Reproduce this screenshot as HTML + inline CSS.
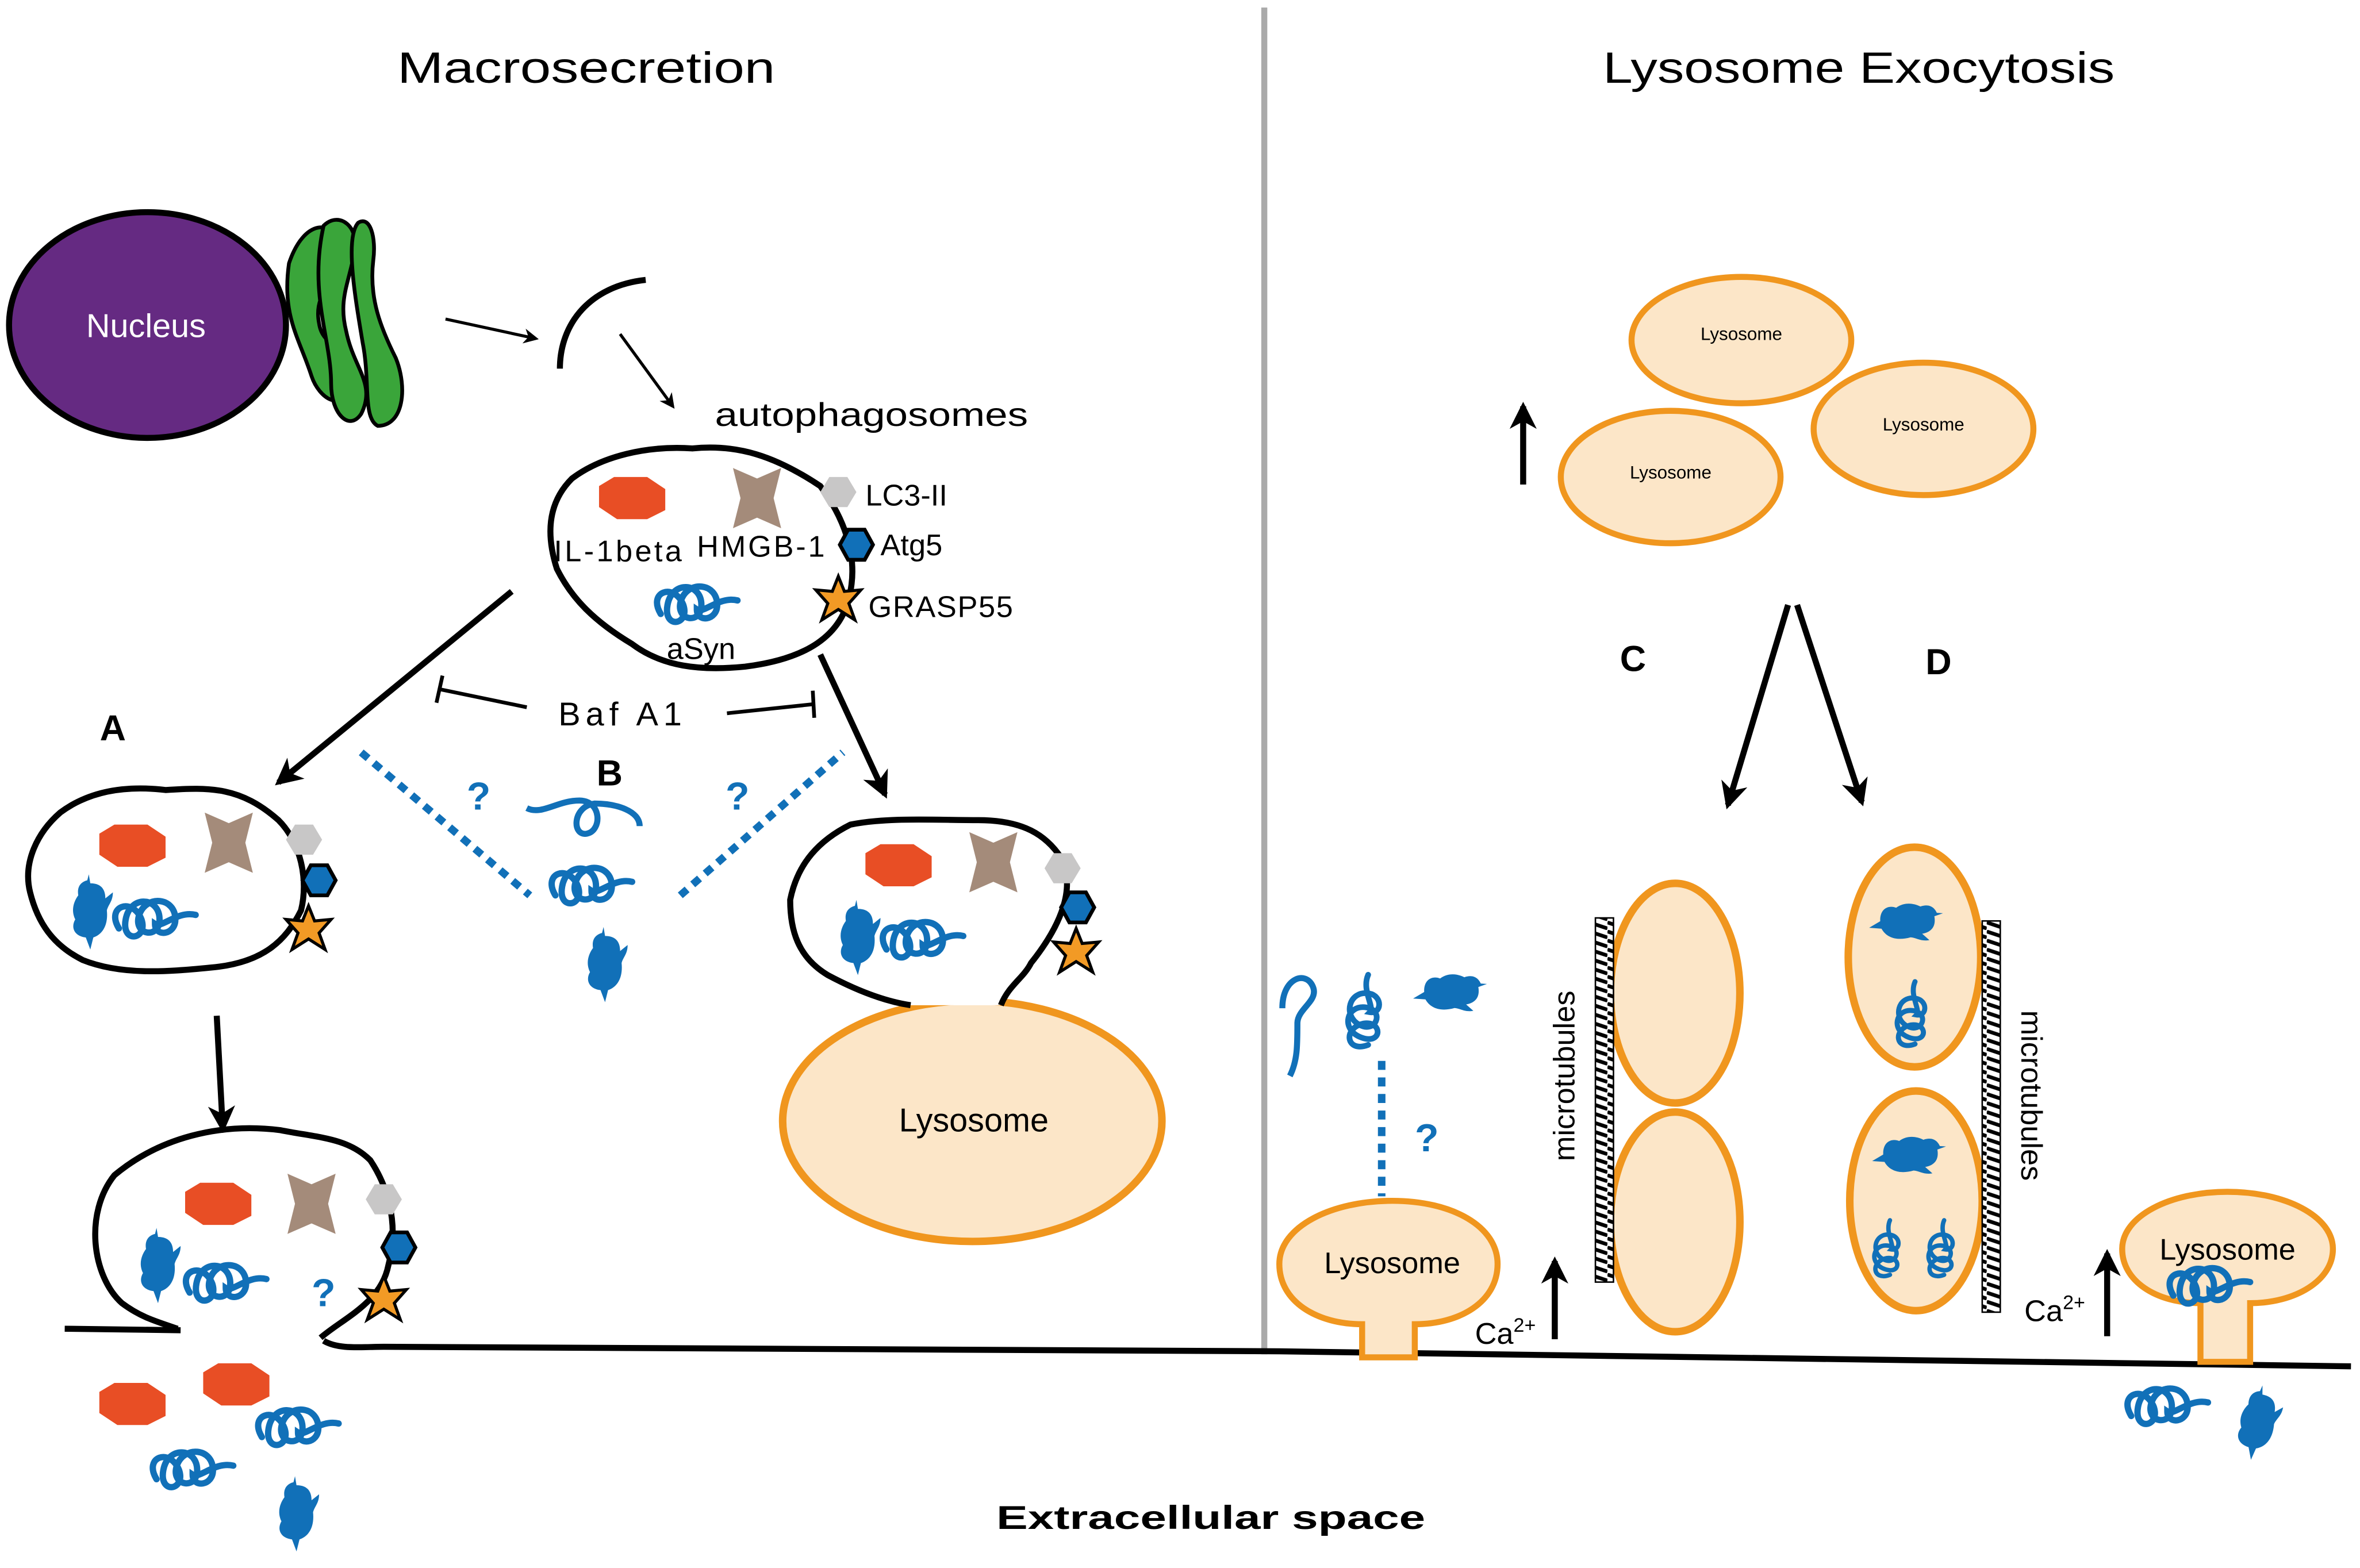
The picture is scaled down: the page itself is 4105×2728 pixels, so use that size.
<!DOCTYPE html>
<html><head><meta charset="utf-8"><style>html,body{margin:0;padding:0;background:#fff}svg{display:block}</style></head>
<body>
<svg width="4105" height="2728" viewBox="0 0 1568 1042" xmlns="http://www.w3.org/2000/svg" font-family="Liberation Sans, sans-serif">
<defs>
<path id="oct" d="M-22,-8 L-12,-14 L10,-14 L22,-6 L22,8 L10,14 L-10,14 L-22,6Z" fill="#e84e25"/>
<path id="crs" d="M-16,-20 L0,-13 L16,-20 L11,0 L16,20 L0,13 L-16,20 L-11,0Z" fill="#a48b7a"/>
<path id="hg" d="M-12,0 L-6,-10 L6,-10 L12,0 L6,10 L-6,10Z" fill="#c8c7c7"/>
<path id="hb" d="M-11,0 L-5.5,-10 L5.5,-10 L11,0 L5.5,10 L-5.5,10Z" fill="#1170b8" stroke="#000" stroke-width="2.5"/>
<path id="st" d="M0,-15 L4,-5 L15,-6 L7,3 L11,14 L0,7 L-11,14 L-7,3 L-15,-6 L-4,-5Z" fill="#f29a25" stroke="#000" stroke-width="2"/>
<g id="coil"><path transform="scale(1.5)" d="M-24,2 c-6,-10 6,-14 10,-4 c3,9 -9,11 -7,0 c2,-11 15,-10 15,0 c0,9 -12,7 -9,-2 c3,-9 16,-8 16,2 c0,7 -9,8 -9,2 c3,2 10,-6 18,-4" fill="none" stroke="#1170b8" stroke-width="2.8" stroke-linecap="round"/></g>
<path id="blob" d="M-4,-24 l1,6 c8,0 10,5 10,10 l5,-4 c0,6 -3,8 -4,12 c1,10 -3,16 -9,18 l-2,8 l-3,-8 c-8,-1 -10,-7 -7,-12 c-3,-6 -1,-12 2,-16 c-1,-6 2,-9 6,-10z" fill="#1170b8"/>
<pattern id="mt" width="12" height="6" patternUnits="userSpaceOnUse"><rect width="12" height="6" fill="#fff"/><path d="M0,1 L12,5" stroke="#000" stroke-width="2.5"/></pattern>
<marker id="ar" markerWidth="10" markerHeight="10" refX="8" refY="5" orient="auto" markerUnits="userSpaceOnUse"><path d="M0,0 L10,5 L0,10 L3,5Z" fill="#000"/></marker>
<marker id="arb" markerWidth="18" markerHeight="18" refX="15" refY="9" orient="auto" markerUnits="userSpaceOnUse"><path d="M0,0 L18,9 L0,18 L5,9Z" fill="#000"/></marker>
</defs>
<rect width="1568" height="1042" fill="#fff"/>
<line x1="840" y1="5" x2="840" y2="900" stroke="#aaa" stroke-width="4"/>
<text x="264" y="55" font-size="29" textLength="251" lengthAdjust="spacingAndGlyphs">Macrosecretion</text>
<text x="1065" y="55" font-size="29" textLength="340" lengthAdjust="spacingAndGlyphs">Lysosome Exocytosis</text>

<!-- golgi -->
<g fill="#3aa53a" stroke="#000" stroke-width="2.5">
<path d="M192,175 c10,-30 30,-30 35,-10 c4,20 -20,25 -15,50 c3,20 25,10 20,40 c-4,20 -20,10 -25,-5 c-8,-25 -20,-40 -15,-75z"/>
<path d="M215,150 c10,-10 25,0 20,20 c-4,20 -10,30 -5,50 c5,25 20,35 10,55 c-8,12 -20,0 -20,-20 c0,-30 -15,-60 -5,-105z"/>
<path d="M238,148 c8,-5 12,10 10,25 c-3,25 5,45 15,65 c8,20 5,45 -12,45 c-10,-5 -5,-30 -10,-55 c-5,-30 -12,-70 -3,-80z"/>
</g>
<ellipse cx="98" cy="216" rx="92" ry="75" fill="#652a82" stroke="#000" stroke-width="4"/>
<text x="97" y="224" font-size="22" fill="#fff" text-anchor="middle">Nucleus</text>
<line x1="296" y1="212" x2="356" y2="225" stroke="#000" stroke-width="2" marker-end="url(#ar)"/>
<path d="M372,245 c0,-30 20,-55 57,-59" fill="none" stroke="#000" stroke-width="4"/>
<line x1="412" y1="222" x2="447" y2="270" stroke="#000" stroke-width="2" marker-end="url(#ar)"/>
<text x="475" y="283" font-size="22" textLength="208" lengthAdjust="spacingAndGlyphs">autophagosomes</text>

<!-- top autophagosome -->
<path d="M380,318 c20,-15 50,-22 80,-20 c30,-3 55,5 85,25 c15,20 25,45 20,70 c-5,30 -30,45 -70,50 c-30,3 -55,0 -75,-15 c-25,-15 -40,-30 -50,-50 c-8,-25 -5,-45 10,-60z" fill="#fff" stroke="#000" stroke-width="4"/>
<use href="#oct" x="420" y="331"/><use href="#crs" x="503" y="331"/><use href="#hg" x="557" y="327"/><use href="#hb" x="569" y="362"/><use href="#st" x="557" y="398"/><use href="#coil" x="475" y="405"/>
<g font-size="20"><text x="368" y="373" textLength="85">IL-1beta</text><text x="463" y="370" textLength="85">HMGB-1</text><text x="575" y="336">LC3-II</text><text x="585" y="369">Atg5</text><text x="577" y="410" textLength="96">GRASP55</text><text x="443" y="438">aSyn</text></g>
<line x1="340" y1="393" x2="185" y2="520" stroke="#000" stroke-width="4" marker-end="url(#arb)"/>
<line x1="545" y1="435" x2="588" y2="528" stroke="#000" stroke-width="4" marker-end="url(#arb)"/>
<text x="412" y="482" font-size="22" text-anchor="middle" textLength="82">Baf A1</text>
<line x1="350" y1="470" x2="292" y2="458" stroke="#000" stroke-width="2.5"/><line x1="294" y1="449" x2="290" y2="467" stroke="#000" stroke-width="2.5"/>
<line x1="483" y1="474" x2="540" y2="468" stroke="#000" stroke-width="2.5"/><line x1="540" y1="459" x2="541" y2="477" stroke="#000" stroke-width="2.5"/>
<text x="75" y="492" font-size="24" font-weight="bold" text-anchor="middle">A</text>
<text x="405" y="522" font-size="24" font-weight="bold" text-anchor="middle">B</text>
<g stroke="#1170b8" stroke-width="5" stroke-dasharray="6,5"><line x1="240" y1="500" x2="352" y2="595"/><line x1="452" y1="595" x2="560" y2="500"/></g>
<g fill="#1170b8" font-size="26" font-weight="bold" text-anchor="middle"><text x="318" y="538">?</text><text x="490" y="538">?</text><text x="158" y="625">?</text><text x="215" y="868">?</text><text x="948" y="765">?</text></g>
<path d="M350,537 c10,5 20,-5 35,-5 c15,0 15,20 5,22 c-10,2 -10,-18 5,-20 c15,0 30,5 30,15" fill="none" stroke="#1170b8" stroke-width="4"/>
<use href="#coil" x="405" y="592"/><use href="#blob" x="405" y="640"/>

<!-- box A -->
<path d="M40,540 c20,-15 45,-18 70,-15 c30,-2 50,-2 75,20 c15,15 20,40 15,60 c-10,20 -25,35 -60,38 c-30,3 -60,5 -85,-5 c-20,-10 -30,-25 -35,-45 c-5,-20 5,-40 20,-53z" fill="#fff" stroke="#000" stroke-width="4"/>
<use href="#oct" x="88" y="562"/><use href="#crs" x="152" y="560"/><use href="#hg" x="202" y="558"/><use href="#hb" x="212" y="585"/><use href="#st" x="205" y="617"/><use href="#blob" x="63" y="605"/><use href="#coil" x="115" y="614"/>
<line x1="144" y1="675" x2="148" y2="750" stroke="#000" stroke-width="4" marker-end="url(#arb)"/>

<!-- bottom left vesicle -->
<path d="M118,883 c-15,-5 -25,-8 -37,-17 c-20,-18 -25,-60 -5,-85 c30,-25 70,-35 110,-30 c25,5 45,5 60,20 c10,15 20,40 12,70 c-5,25 -30,35 -45,48" fill="none" stroke="#000" stroke-width="4"/>
<use href="#oct" x="145" y="800"/><use href="#crs" x="207" y="800"/><use href="#hg" x="255" y="797"/><use href="#hb" x="265" y="829"/><use href="#st" x="255" y="863"/><use href="#blob" x="108" y="840"/><use href="#coil" x="162" y="856"/>
<use href="#oct" x="88" y="933"/><use href="#oct" x="157" y="920"/><use href="#coil" x="210" y="952"/><use href="#coil" x="140" y="980"/><use href="#blob" x="200" y="1005"/>
<path d="M43,883 L120,884 M215,891 c10,6 25,4 40,4 L850,898 L1562,908" fill="none" stroke="#000" stroke-width="4"/>

<!-- right box + lysosome -->
<ellipse cx="646" cy="745" rx="126" ry="80" fill="#fce6c8" stroke="#f0961e" stroke-width="5"/>
<text x="647" y="752" font-size="22" text-anchor="middle">Lysosome</text>
<path d="M605,668 c-20,-3 -40,-12 -55,-20 c-20,-12 -25,-30 -25,-50 c5,-25 20,-40 40,-50 c25,-5 55,-3 85,-3 c30,0 45,10 55,25 c10,20 0,45 -20,70 c-5,10 -15,15 -20,28" fill="#fff" stroke="#000" stroke-width="4"/>
<use href="#oct" x="597" y="575"/><use href="#crs" x="660" y="573"/><use href="#hg" x="706" y="577"/><use href="#hb" x="716" y="603"/><use href="#st" x="715" y="632"/><use href="#blob" x="573" y="622"/><use href="#coil" x="625" y="628"/>

<!-- right half -->
<g fill="#fce6c8" stroke="#f0961e" stroke-width="4">
<ellipse cx="1157" cy="226" rx="73" ry="42"/><ellipse cx="1278" cy="285" rx="73" ry="44"/><ellipse cx="1110" cy="317" rx="73" ry="44"/>
</g>
<g font-size="12" text-anchor="middle"><text x="1157" y="226">Lysosome</text><text x="1278" y="286">Lysosome</text><text x="1110" y="318">Lysosome</text></g>
<line x1="1012" y1="322" x2="1012" y2="270" stroke="#000" stroke-width="4" marker-end="url(#arb)"/>
<text x="1085" y="446" font-size="24" font-weight="bold" text-anchor="middle">C</text>
<text x="1288" y="448" font-size="24" font-weight="bold" text-anchor="middle">D</text>
<line x1="1188" y1="402" x2="1148" y2="535" stroke="#000" stroke-width="4" marker-end="url(#arb)"/>
<line x1="1194" y1="402" x2="1237" y2="533" stroke="#000" stroke-width="4" marker-end="url(#arb)"/>
<g fill="#fce6c8" stroke="#f0961e" stroke-width="5">
<ellipse cx="1113" cy="660" rx="43" ry="73"/><ellipse cx="1113" cy="812" rx="43" ry="73"/>
<ellipse cx="1272" cy="636" rx="44" ry="73"/><ellipse cx="1273" cy="798" rx="44" ry="73"/>
</g>
<rect x="1060" y="610" width="12" height="242" fill="url(#mt)" stroke="#000" stroke-width="1"/>
<rect x="1317" y="612" width="12" height="260" fill="url(#mt)" stroke="#000" stroke-width="1"/>
<text transform="translate(1046,715) rotate(-90)" font-size="20" text-anchor="middle">microtubules</text>
<text transform="translate(1343,728) rotate(90)" font-size="20" text-anchor="middle">microtubules</text>
<use href="#blob" transform="translate(1268,615) rotate(80)"/><use href="#coil" transform="translate(1275,665) rotate(-80) scale(0.8)"/>
<use href="#blob" transform="translate(1270,770) rotate(80)"/><use href="#coil" transform="translate(1258,822) rotate(-80) scale(0.7)"/><use href="#coil" transform="translate(1294,822) rotate(-80) scale(0.7)"/>

<path d="M852,670 c0,-20 15,-25 20,-15 c5,10 -10,15 -10,25 c0,15 0,25 -5,35" fill="none" stroke="#1170b8" stroke-width="4"/>
<use href="#coil" transform="translate(912,662) rotate(-80) scale(0.9)"/><use href="#blob" transform="translate(965,662) rotate(80)"/>
<line x1="918" y1="705" x2="918" y2="795" stroke="#1170b8" stroke-width="5" stroke-dasharray="6,5"/>
<path d="M905,902 L905,880 c-30,0 -55,-15 -55,-40 c0,-25 35,-42 75,-42 c40,0 70,17 70,42 c0,25 -25,40 -55,40 L940,902Z" fill="#fce6c8" stroke="#f0961e" stroke-width="4"/>
<text x="925" y="846" font-size="20" text-anchor="middle">Lysosome</text>
<text x="980" y="893" font-size="20">Ca<tspan font-size="13" dy="-8">2+</tspan></text>
<line x1="1033" y1="890" x2="1033" y2="838" stroke="#000" stroke-width="4" marker-end="url(#arb)"/>
<text x="1345" y="878" font-size="20">Ca<tspan font-size="13" dy="-8">2+</tspan></text>
<line x1="1400" y1="888" x2="1400" y2="833" stroke="#000" stroke-width="4" marker-end="url(#arb)"/>
<path d="M1462,905 L1462,866 c-30,0 -52,-15 -52,-36 c0,-22 32,-38 70,-38 c38,0 70,16 70,38 c0,21 -25,36 -55,36 L1495,905Z" fill="#fce6c8" stroke="#f0961e" stroke-width="4"/>
<text x="1480" y="837" font-size="20" text-anchor="middle">Lysosome</text>
<use href="#coil" x="1480" y="858"/>
<use href="#coil" x="1452" y="938"/><use href="#blob" transform="translate(1503,945) rotate(10)"/>
<text x="662" y="1016" font-size="22" font-weight="bold" textLength="285" lengthAdjust="spacingAndGlyphs">Extracellular space</text>
</svg>
</body></html>
